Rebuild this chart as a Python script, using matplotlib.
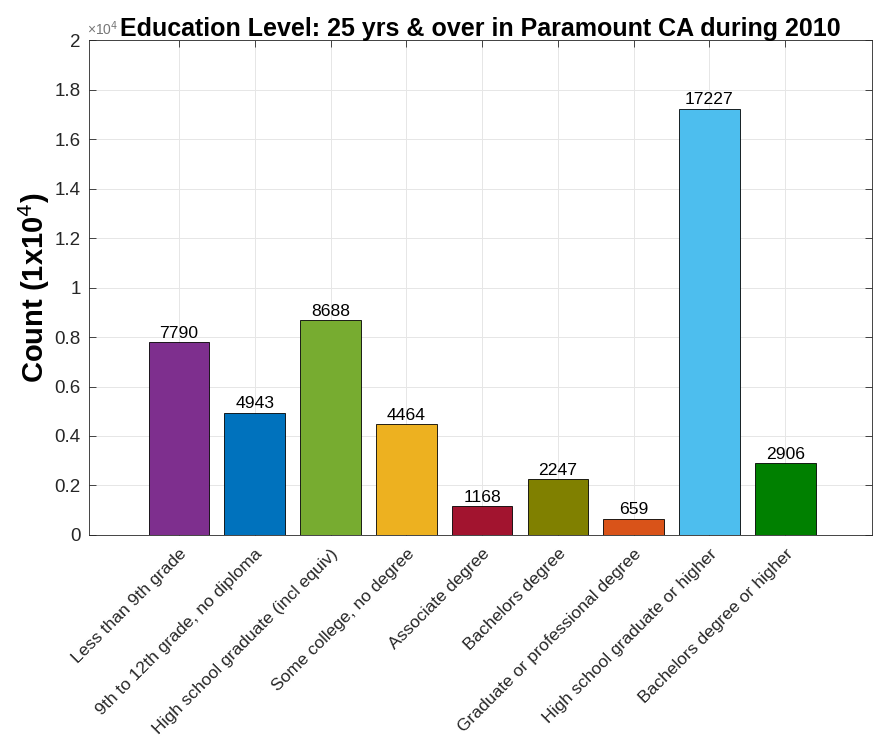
import matplotlib
matplotlib.use("Agg")
import matplotlib.pyplot as plt
import numpy as np

categorias = [
    "Less than 9th grade",
    "9th to 12th grade, no diploma",
    "High school graduate (incl equiv)",
    "Some college, no degree",
    "Associate degree",
    "Bachelors degree",
    "Graduate or professional degree",
    "High school graduate or higher",
    "Bachelors degree or higher",
]
conteos = [7790, 4943, 8688, 4464, 1168, 2247, 659, 17227, 2906]
colores = ["#7E2F8E", "#0072BD", "#77AC30", "#EDB120", "#A2142F",
           "#808000", "#D95319", "#4DBEEE", "#008000"]

plt.rcParams["font.family"] = ["Liberation Sans", "DejaVu Sans"]

fig = plt.figure(figsize=(8.73, 7.45), dpi=100)
ax = fig.add_axes([0.102, 0.282, 0.897, 0.664])

x = np.arange(1, len(conteos) + 1)
valores = np.array(conteos) / 1e4
ax.bar(x, valores, width=0.8, color=colores, edgecolor="black", linewidth=0.6, zorder=3)

for xi, v, c in zip(x, valores, conteos):
    ax.text(xi, v + 0.006, str(c), ha="center", va="bottom", fontsize=12.6, zorder=4)

ax.set_xlim(-0.186, 10.146)
ax.set_ylim(0, 2)
ax.set_yticks(np.arange(0, 2.01, 0.2))
ax.set_yticklabels(["0", "0.2", "0.4", "0.6", "0.8", "1", "1.2", "1.4", "1.6", "1.8", "2"])
ax.set_xticks(x)
ax.set_xticklabels(categorias, rotation=45, ha="right", rotation_mode="anchor", fontsize=12.6)
ax.tick_params(axis="y", labelsize=13.5, pad=6)
ax.tick_params(axis="x", pad=8)
ax.tick_params(direction="in", top=True, right=True, length=5, width=0.6, colors="#262626")
ax.tick_params(axis="both", labelcolor="#262626")

ax.grid(True, color="#e6e6e6", linewidth=0.7, zorder=0)
for sp in ax.spines.values():
    sp.set_linewidth(0.6)
    sp.set_color("#262626")

ax.set_ylabel("Count (1x10$^{4}$)", fontsize=21, fontweight="bold", labelpad=2)
# multiplicador del eje y (en MATLAB queda casi tapado por el título)
ax.text(-0.002, 1.004, "×10$^{4}$", transform=ax.transAxes, fontsize=10,
        color="#777777", ha="left", va="bottom")
ax.set_title("Education Level: 25 yrs & over in Paramount CA during 2010",
             fontsize=18, fontweight="bold", pad=3)

fig.savefig("out.png", dpi=100)
plt.close(fig)
